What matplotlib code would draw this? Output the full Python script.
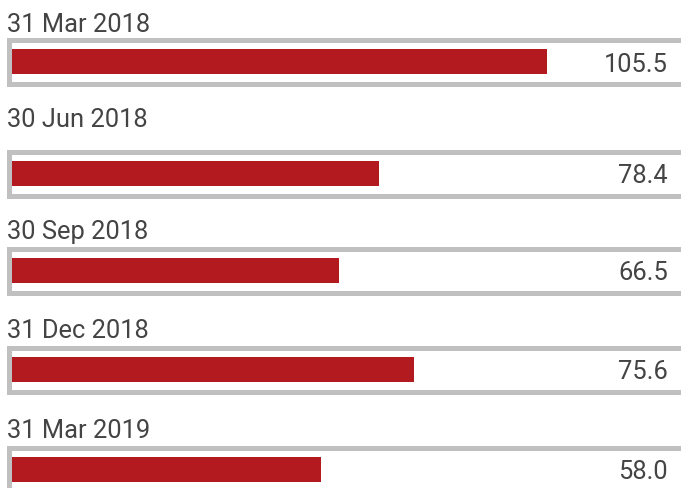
import matplotlib
matplotlib.use("Agg")
import matplotlib.pyplot as plt

# data
dates = ['31 Mar 2018', '30 Jun 2018', '30 Sep 2018', '31 Dec 2018', '31 Mar 2019']
value_labels = ['105.5', '78.4', '66.5', '75.6', '58.0']
# bar lengths as drawn (they are not strictly proportional to the printed values)
bar_lengths = [105.5, 72.4, 64.5, 79.3, 60.9]

W, H = 681, 489
bar_tops = [50, 162, 259, 358, 458]
label_baselines = [32, 127, 239, 338, 438]
bar_h = 25
px_per_unit = 535 / 105.5

red = '#b31a1f'
gray = '#c0c0c0'
text_color = '#444444'

plt.rcParams['font.family'] = ['Roboto', 'DejaVu Sans']


def px_rect(left, top, width, height):
    return [left / W, 1 - (top + height) / H, width / W, height / H]


fig = plt.figure(figsize=(W / 100, H / 100), dpi=100)

for i in range(len(dates)):
    ax_left = 9
    ax_w = W - ax_left + 10
    ax = fig.add_axes(px_rect(ax_left, bar_tops[i] - 9.5, ax_w, bar_h + 19))
    ax.barh(0, bar_lengths[i], height=bar_h / (bar_h + 19), color=red, left=0)
    ax.set_ylim(-0.5, 0.5)
    ax.set_xlim(-3 / px_per_unit, (ax_w - 3) / px_per_unit)
    ax.set_xticks([])
    ax.set_yticks([])
    for side in ['left', 'top', 'bottom']:
        ax.spines[side].set_color(gray)
        ax.spines[side].set_linewidth(5 * 72 / 100)
    ax.spines['right'].set_visible(False)

    fig.text(7 / W, 1 - label_baselines[i] / H, dates[i], fontsize=18.4,
             color=text_color, ha='left', va='baseline')
    fig.text(668 / W, 1 - (bar_tops[i] + 21.5) / H, value_labels[i], fontsize=18.4,
             color=text_color, ha='right', va='baseline')

fig.savefig('out.png', dpi=100)
